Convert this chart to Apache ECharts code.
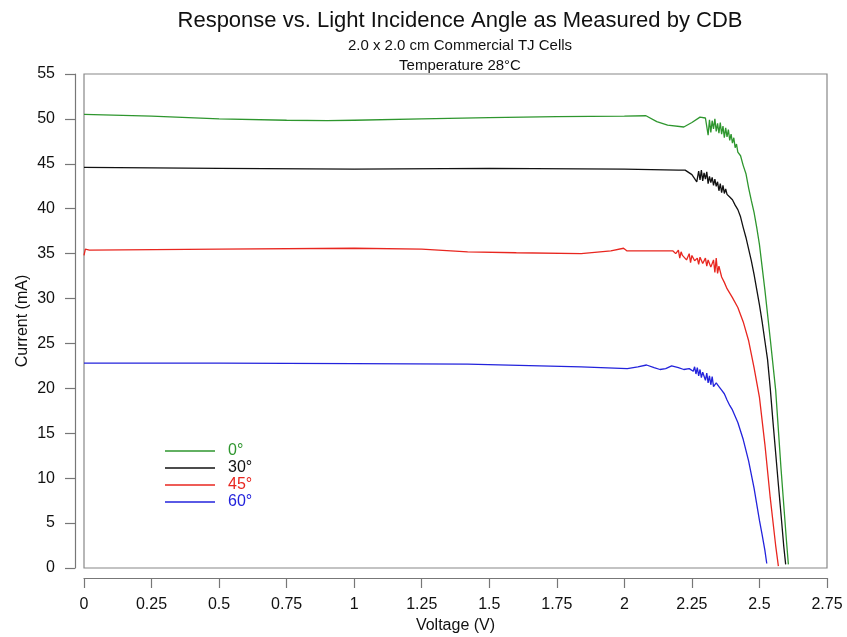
<!DOCTYPE html>
<html>
<head>
<meta charset="utf-8">
<script src="https://cdn.jsdelivr.net/npm/echarts@6/dist/echarts.min.js"></script>
<style>html,body{margin:0;padding:0;background:#fff;}#c{width:847px;height:637px;}</style>
</head>
<body>
<div id="c"></div>
<script>
var seriesNames = ['0°', '30°', '45°', '60°'];
var seriesColors = ['#2e962e', '#111111', '#e8261f', '#2323dc'];

var v0 = [0,0.25,0.5,0.75,0.9,1.0,1.25,1.5,1.75,2.0,2.08,2.12,2.16,2.22,2.25,2.28,2.30,2.31,2.315,2.32,2.325,2.33,2.335,2.34,2.345,2.35,2.355,2.36,2.365,2.37,2.375,2.38,2.385,2.39,2.395,2.40,2.405,2.41,2.415,2.42,2.43,2.44,2.45,2.46,2.47,2.48,2.49,2.50,2.52,2.54,2.56,2.58,2.60,2.607];
var i0 = [50.5,50.3,50.0,49.85,49.8,49.85,50.0,50.15,50.25,50.3,50.35,49.7,49.3,49.1,49.6,50.2,50.1,48.2,49.9,48.5,49.8,48.9,50.0,48.6,49.5,48.4,49.6,48.3,49.2,47.9,49.0,48.0,48.8,47.6,48.3,47.3,47.9,46.8,47.2,46.3,45.9,44.8,43.9,42.3,40.9,39.6,37.9,36.0,31.0,25.5,19.8,11.0,3.0,0.4];

var v30 = [0,0.5,1.0,1.5,2.0,2.2,2.225,2.25,2.268,2.275,2.28,2.285,2.29,2.295,2.30,2.305,2.31,2.315,2.32,2.325,2.33,2.335,2.34,2.345,2.35,2.355,2.36,2.365,2.37,2.375,2.38,2.39,2.40,2.41,2.42,2.43,2.44,2.45,2.46,2.47,2.48,2.49,2.50,2.51,2.52,2.53,2.54,2.55,2.56,2.57,2.58,2.59,2.597];
var i30 = [44.6,44.5,44.4,44.5,44.4,44.3,44.3,43.8,43.0,44.2,43.2,44.3,43.1,44.0,43.3,44.1,42.8,43.6,42.9,43.5,42.6,43.3,42.5,43.0,42.0,42.8,41.8,42.6,41.7,42.2,41.6,41.3,41.0,40.4,39.9,39.1,37.9,36.8,35.5,34.2,32.7,31.0,29.3,27.4,25.3,23.2,20.0,16.3,12.8,9.3,5.9,2.4,0.4];

var v45 = [0,0.005,0.02,0.5,1.0,1.25,1.42,1.6,1.84,1.95,1.997,2.01,2.1,2.18,2.19,2.20,2.205,2.21,2.215,2.22,2.23,2.24,2.245,2.25,2.26,2.27,2.275,2.28,2.29,2.30,2.305,2.31,2.32,2.33,2.335,2.34,2.345,2.35,2.36,2.37,2.38,2.39,2.40,2.42,2.44,2.46,2.48,2.50,2.52,2.54,2.56,2.57];
var i45 = [34.8,35.5,35.4,35.5,35.6,35.5,35.2,35.1,35.0,35.3,35.6,35.3,35.3,35.3,35.0,35.4,34.5,35.2,34.8,35.0,34.3,35.0,34.0,34.8,34.2,34.5,33.8,34.6,33.9,34.5,33.6,34.3,33.5,34.3,32.9,34.5,32.8,33.6,32.4,31.8,31.1,30.6,30.1,29.0,27.4,25.3,22.3,19.0,13.8,7.8,2.5,0.2];

var v60 = [0,0.5,1.0,1.42,1.84,2.011,2.05,2.082,2.11,2.132,2.153,2.175,2.20,2.22,2.24,2.255,2.26,2.265,2.27,2.275,2.28,2.285,2.29,2.295,2.30,2.305,2.31,2.315,2.32,2.325,2.33,2.34,2.35,2.36,2.37,2.38,2.39,2.40,2.42,2.44,2.46,2.48,2.50,2.51,2.52,2.527];
var i60 = [22.8,22.8,22.75,22.7,22.4,22.2,22.4,22.6,22.3,22.1,22.2,22.5,22.3,22.1,22.2,21.9,22.4,21.6,22.3,21.4,22.1,21.2,21.8,21.6,20.9,21.7,20.6,21.4,20.4,21.3,20.2,20.6,20.2,19.8,19.4,18.7,18.1,17.6,16.2,14.3,11.9,8.9,5.3,3.7,2.0,0.5];

var voltages = [v0, v30, v45, v60];
var currents = [i0, i30, i45, i60];

var titleText = 'Response vs. Light Incidence Angle as Measured by CDB';
var subtitleLines = ['2.0 x 2.0 cm Commercial TJ Cells', 'Temperature 28°C'];
var xAxisName = 'Voltage (V)';
var yAxisName = 'Current (mA)';

function pairs(xs, ys) {
  var out = [];
  for (var k = 0; k < xs.length; k++) out.push([xs[k], ys[k]]);
  return out;
}

var FONT = '"Liberation Sans", Arial, Helvetica, sans-serif';
var chart = echarts.init(document.getElementById('c'), null, {renderer: 'canvas'});

var series = seriesNames.map(function (n, idx) {
  return {
    name: n, type: 'line', showSymbol: false, symbol: 'none',
    data: pairs(voltages[idx], currents[idx]),
    lineStyle: {color: seriesColors[idx], width: 1.3},
    itemStyle: {color: seriesColors[idx]},
    z: 10 - idx
  };
});

var legendGraphics = [];
seriesNames.forEach(function (n, idx) {
  var y = 451 + idx * 17;
  legendGraphics.push({type: 'line', shape: {x1: 165, y1: y, x2: 215, y2: y},
    style: {stroke: seriesColors[idx], lineWidth: 1.5}});
  legendGraphics.push({type: 'text', x: 228, y: y, style: {text: n, fill: seriesColors[idx],
    font: '16px ' + FONT, textVerticalAlign: 'middle', verticalAlign: 'middle'}});
});

chart.setOption({
  animation: false,
  backgroundColor: '#fff',
  title: [
    {text: titleText, left: 455, top: 5, textAlign: 'center',
     textStyle: {fontFamily: FONT, fontSize: 22, fontWeight: 'normal', color: '#111'}},
    {text: subtitleLines[0], left: 455, top: 33, textAlign: 'center',
     textStyle: {fontFamily: FONT, fontSize: 15, fontWeight: 'normal', color: '#111'}},
    {text: subtitleLines[1], left: 455, top: 53, textAlign: 'center',
     textStyle: {fontFamily: FONT, fontSize: 15, fontWeight: 'normal', color: '#111'}}
  ],
  grid: {left: 84, right: 20, top: 74, bottom: 69, show: true, borderColor: '#888', borderWidth: 1.2,
         backgroundColor: 'transparent', containLabel: false, outerBoundsMode: 'none'},
  xAxis: {
    type: 'value', min: 0, max: 2.75, interval: 0.25, offset: 10,
    name: xAxisName, nameLocation: 'middle', nameGap: 40, nameMoveOverlap: false,
    nameTextStyle: {fontFamily: FONT, fontSize: 16, color: '#111'},
    axisLine: {show: true, onZero: false, lineStyle: {color: '#777', width: 1.2}},
    axisTick: {show: true, inside: false, length: 10, lineStyle: {color: '#777', width: 1.2}},
    axisLabel: {fontFamily: FONT, fontSize: 16, color: '#111', margin: 19},
    splitLine: {show: false}
  },
  yAxis: {
    type: 'value', min: 0, max: 55, interval: 5, offset: 9,
    name: yAxisName, nameLocation: 'middle', nameGap: 44, nameMoveOverlap: false,
    nameTextStyle: {fontFamily: FONT, fontSize: 16, color: '#111'},
    axisLine: {show: true, onZero: false, lineStyle: {color: '#777', width: 1.2}},
    axisTick: {show: true, inside: false, length: 10, lineStyle: {color: '#777', width: 1.2}},
    axisLabel: {fontFamily: FONT, fontSize: 16, color: '#111', margin: 20},
    splitLine: {show: false}
  },
  series: series,
  graphic: legendGraphics
});
</script>
</body>
</html>
